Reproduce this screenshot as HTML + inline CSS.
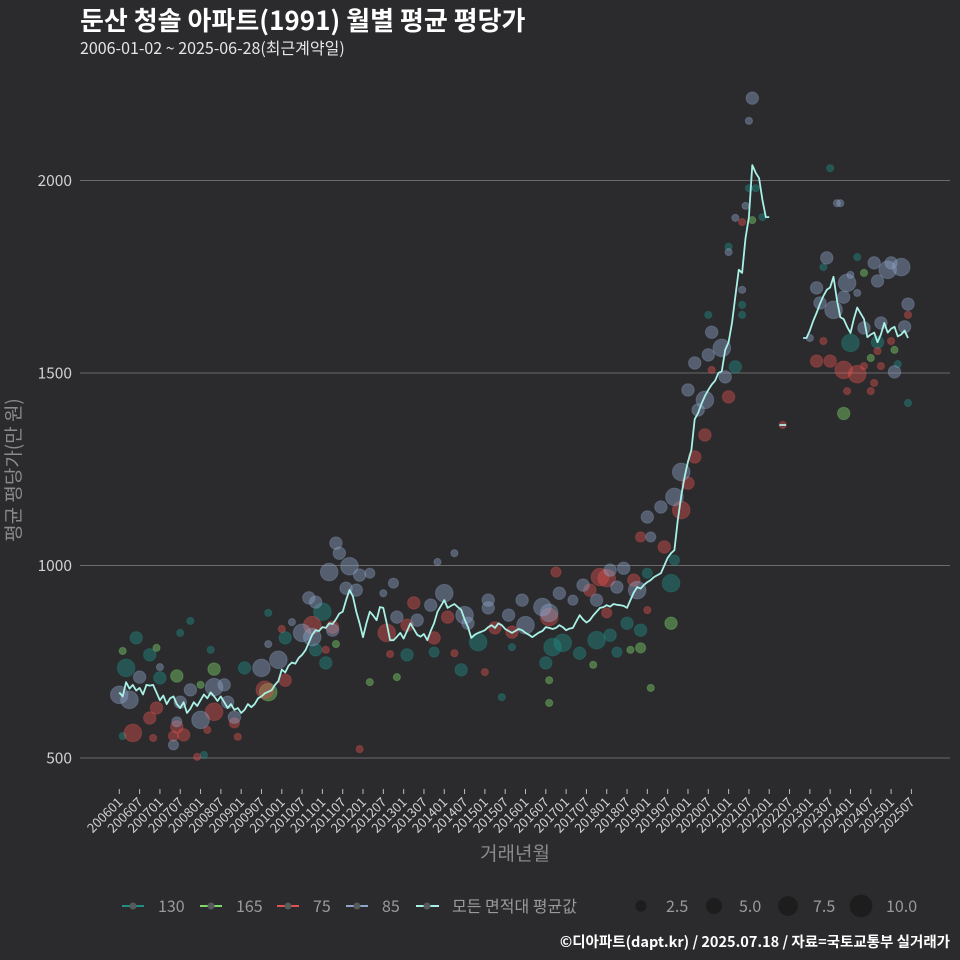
<!DOCTYPE html>
<html><head><meta charset="utf-8">
<style>
html,body{margin:0;padding:0;background:#2b2b2d;}
svg{display:block;font-family:"Noto Sans CJK KR","Liberation Sans",sans-serif;}
</style></head>
<body>
<svg id="chart" width="960" height="960" viewBox="0 0 960 960">
<rect x="0" y="0" width="960" height="960" fill="#2b2b2d"/>
<text x="80" y="30" fill="#ffffff" font-size="26" font-weight="bold">둔산 청솔 아파트(1991) 월별 평균 평당가</text>
<text x="80" y="54" fill="#e6e6e6" font-size="16">2006-01-02 ~ 2025-06-28(최근계약일)</text>
<g id="grid"></g>
<g id="yaxis"></g>
<g id="xaxis"></g>
<g id="points"></g>
<g id="line"></g>
<text transform="translate(20,470) rotate(-90)" text-anchor="middle" fill="#8a8a8a" font-size="19">평균 평당가(만 원)</text>
<text x="515" y="860" text-anchor="middle" fill="#8a8a8a" font-size="19">거래년월</text>
<g id="legend"></g>
<text x="950" y="947" text-anchor="end" fill="#ffffff" font-size="14.5" font-weight="bold">©디아파트(dapt.kr) / 2025.07.18 / 자료=국토교통부 실거래가</text>
</svg>
<script>
// ---- data ----
const yTicks = [500, 1000, 1500, 2000];
const xTickLabels = ["200601","200607","200701","200707","200801","200807","200901","200907","201001","201007","201101","201107","201201","201207","201301","201307","201401","201407","201501","201507","201601","201607","201701","201707","201801","201807","201901","201907","202001","202007","202101","202107","202201","202207","202301","202307","202401","202407","202501","202507"];
// monthly average, index 0 = 2006-01
const avgValues = [670,660,697,680,690,675,682,665,690,688,690,670,
650,662,640,655,660,640,630,645,617,628,645,635,
650,665,655,670,660,648,660,645,630,640,625,630,
617,625,640,632,640,655,660,668,672,676,690,700,
730,722,740,748,745,760,768,780,800,820,832,830,
840,838,850,848,860,875,880,910,936,920,880,850,
814,850,880,870,858,892,890,850,806,806,815,825,
810,830,850,835,820,815,822,806,830,850,880,895,
910,890,895,900,892,885,860,840,812,820,825,828,
832,840,845,838,850,845,835,830,825,830,835,832,
825,820,814,820,826,830,840,838,835,838,845,840,
832,836,838,855,871,860,852,858,870,880,890,892,
897,893,900,898,897,895,890,910,930,944,940,950,
957,962,970,975,980,1000,1020,1032,1040,1118,1180,1230,
1270,1300,1380,1396,1420,1440,1456,1470,1480,1500,1505,1560,
1580,1630,1700,1768,1760,1850,1905,2040,2020,2006,1950,1905,
1905,null,null,1365,1365,1365,null,null,null,null,1591,1591,
1610,1635,1656,1680,1700,1716,1722,1750,1690,1645,1640,1620,
1604,1640,1670,1655,1640,1593,1600,1605,1580,1600,1630,1605,
1615,1620,1595,1600,1610,1591];

const g130Month=[5,9,2,12,21,18,27,37,25,1,44,49,60,58,61,85,93,101,106,156,164,163,128,131,126,136,141,145,150,154,147,113,116,182,174,184,184,180,188,186,190,210,208,218,216,224,230,233];
const g130Value=[812,768,734,708,856,825,781,734,508,557,877,812,880,781,747,768,775,729,801,980,1014,954,788,799,747,772,806,819,850,832,775,658,788,1516,1651,1651,1677,1828,1980,1980,1905,2032,1775,1801,1578,1580,1523,1422];
const g130Count=[3,3,6,3,1,1,1,3,1,1,1,3,6,3,3,3,2,3,6,2,2,6,6,6,3,3,6,3,3,3,2,1,1,3,1,1,1,1,1,1,1,1,1,1,6,3,1,1];

const g165Month=[1,11,17,28,24,44,64,74,82,163,154,151,157,127,127,140,187,220,214,222,229];
const g165Value=[778,786,713,731,690,671,796,697,710,850,786,781,682,702,643,742,1897,1760,1395,1539,1560];
const g165Count=[1,1,3,3,1,6,1,1,1,3,2,1,1,1,1,1,1,1,3,1,1];

const g75Month=[11,9,4,17,19,16,28,26,23,10,34,35,43,49,48,57,61,79,80,71,63,87,85,93,97,111,127,116,129,139,142,144,152,154,161,144,108,99,156,166,170,168,173,180,175,184,196,233,208,206,210,214,218,215,222,223,220,225,224,228];
const g75Value=[630,604,565,581,560,557,620,573,503,552,591,555,677,702,835,845,781,825,770,523,840,903,845,812,866,838,866,827,983,936,970,967,962,1074,1048,877,723,772,884,1144,1282,1214,1339,1438,1508,1892,1365,1651,1583,1531,1531,1508,1497,1453,1453,1474,1518,1518,1557,1583];
const g75Count=[3,3,6,3,3,2,6,1,1,1,2,1,6,3,1,6,1,6,1,1,3,3,3,3,3,3,6,3,2,3,6,6,3,2,3,2,1,1,1,6,3,3,3,3,1,1,1,1,1,3,3,6,6,1,1,1,1,1,1,1];

const g85Month=[0,3,6,12,21,18,24,28,31,32,17,16,34,42,47,44,51,54,57,63,56,58,64,65,62,68,71,74,67,70,81,78,82,88,92,96,102,103,109,109,119,115,120,125,127,130,134,137,141,145,149,147,153,157,99,94,156,160,164,166,171,173,168,170,174,175,178,179,184,180,182,185,187,186,212,213,209,206,207,211,215,214,218,216,223,227,231,224,228,233,220,225,232,229,204];
const g85Value=[664,651,710,736,677,645,599,684,690,645,594,534,606,734,755,796,853,825,814,832,916,905,1058,1032,983,998,975,980,941,936,954,928,866,858,897,928,871,850,910,890,910,871,845,892,877,928,910,949,910,988,993,944,936,1074,1032,1009,1126,1152,1178,1243,1404,1430,1456,1526,1547,1606,1565,1490,1716,1814,1903,1934,2214,2155,1941,1941,1799,1721,1682,1664,1734,1697,1708,1755,1786,1768,1775,1739,1786,1679,1617,1630,1620,1503,1591];
const g85Count=[6,6,3,1,3,3,6,6,3,3,2,2,3,6,6,1,1,6,6,3,3,3,3,3,6,6,3,2,3,3,2,1,3,3,3,6,6,3,3,3,3,3,6,6,6,3,2,3,3,3,3,3,6,2,1,1,3,3,6,6,3,6,3,3,3,3,6,3,1,1,1,1,3,1,1,1,3,3,3,6,6,3,1,1,3,6,6,3,3,3,3,3,3,3,1];

const legendGroups = ["130","165","75","85"];
const legendSizes = [2.5, 5.0, 7.5, 10.0];
const legendSizeLabels = ["2.5","5.0","7.5","10.0"];

// ---- scales ----
const NS = "http://www.w3.org/2000/svg";
const X0 = 119.3, XSTEP = 3.385;
const xScale = m => X0 + m * XSTEP;
const yScale = v => 758 - (v - 500) * 0.385;
const rScale = n => 3.6 * Math.sqrt(n);
const colors = {"130":"#1f8e87","165":"#7fd86c","75":"#e0524f","85":"#8fa4c9"};
function mk(tag, attrs, parent){ const e=document.createElementNS(NS,tag); for(const k in attrs) e.setAttribute(k,attrs[k]); parent.appendChild(e); return e; }

const grid=document.getElementById('grid'), yaxis=document.getElementById('yaxis'), xaxis=document.getElementById('xaxis');
yTicks.forEach(v=>{
  const l=mk('line',{x1:80,x2:950,y1:yScale(v),y2:yScale(v),stroke:'#6a6a6a','stroke-width':1},grid);
  
  
  const t=mk('text',{x:72,y:yScale(v)+5.5,'text-anchor':'end',fill:'#d0d0d0','font-size':15.5},yaxis);
  t.textContent=v;
  
  
});
xTickLabels.forEach((lab,i)=>{
  const x=xScale(i*6);
  const tk=mk('line',{x1:x,x2:x,y1:789,y2:794,stroke:'#bbbbbb','stroke-width':1},xaxis);
  
  
  const t=mk('text',{x:x+4,y:803,'text-anchor':'end',fill:'#d0d0d0','font-size':13,transform:`rotate(-45 ${x+4} 803)`},xaxis);
  t.textContent=lab;
  
  
});

const pts=document.getElementById('points');
function drawGroup(key, months, values, counts){
  months.forEach((m,i)=>{
    const c=mk('circle',{cx:xScale(m),cy:yScale(values[i]),r:rScale(counts[i]),fill:colors[key],'fill-opacity':0.42,stroke:colors[key],'stroke-opacity':0.3},pts);
    
    
  });
}
drawGroup("130",g130Month,g130Value,g130Count);
drawGroup("165",g165Month,g165Value,g165Count);
drawGroup("75",g75Month,g75Value,g75Count);
drawGroup("85",g85Month,g85Value,g85Count);

// line segments (break at nulls)
const lineG=document.getElementById('line');
let seg=[];
function flush(){
  if(seg.length){
    const p=mk('polyline',{points:seg.join(' '),fill:'none',stroke:'#a9f0e6','stroke-width':1.8,'stroke-linejoin':'round'},lineG);
    
    
  }
  seg=[];
}
avgValues.forEach((v,m)=>{ if(v===null){flush();} else seg.push(xScale(m).toFixed(1)+','+yScale(v).toFixed(1)); });
flush();

// legend
const lg=document.getElementById('legend');
const gx=[122,200,277,346];
legendGroups.forEach((g,i)=>{
  const x=gx[i];
  const ln=mk('line',{x1:x,x2:x+22,y1:906,y2:906,stroke:colors[g],'stroke-width':2},lg);
  
  
  const c=mk('circle',{cx:x+11,cy:906,r:3.5,fill:'#555a5a'},lg);
  
  
  const t=mk('text',{x:x+36,y:912,fill:'#9a9a9a','font-size':16},lg);
  t.textContent=g;
  
  
});
{
  const ln=mk('line',{x1:416,x2:439,y1:906,y2:906,stroke:'#a9f0e6','stroke-width':2},lg);
  
  
  const c=mk('circle',{cx:427,cy:906,r:3.5,fill:'#555a5a'},lg);
  
  
  const t=mk('text',{x:452,y:912,fill:'#9a9a9a','font-size':16},lg);
  t.textContent='모든 면적대 평균값';
  
  
}
const sx=[641,714,788,861];
legendSizes.forEach((s,i)=>{
  const c=mk('circle',{cx:sx[i],cy:906,r:rScale(s),fill:'#1d1d1e'},lg);
  
  
  const t=mk('text',{x:sx[i]+25,y:912,fill:'#9a9a9a','font-size':16},lg);
  t.textContent=legendSizeLabels[i];
  
  
});
</script>
</body></html>
